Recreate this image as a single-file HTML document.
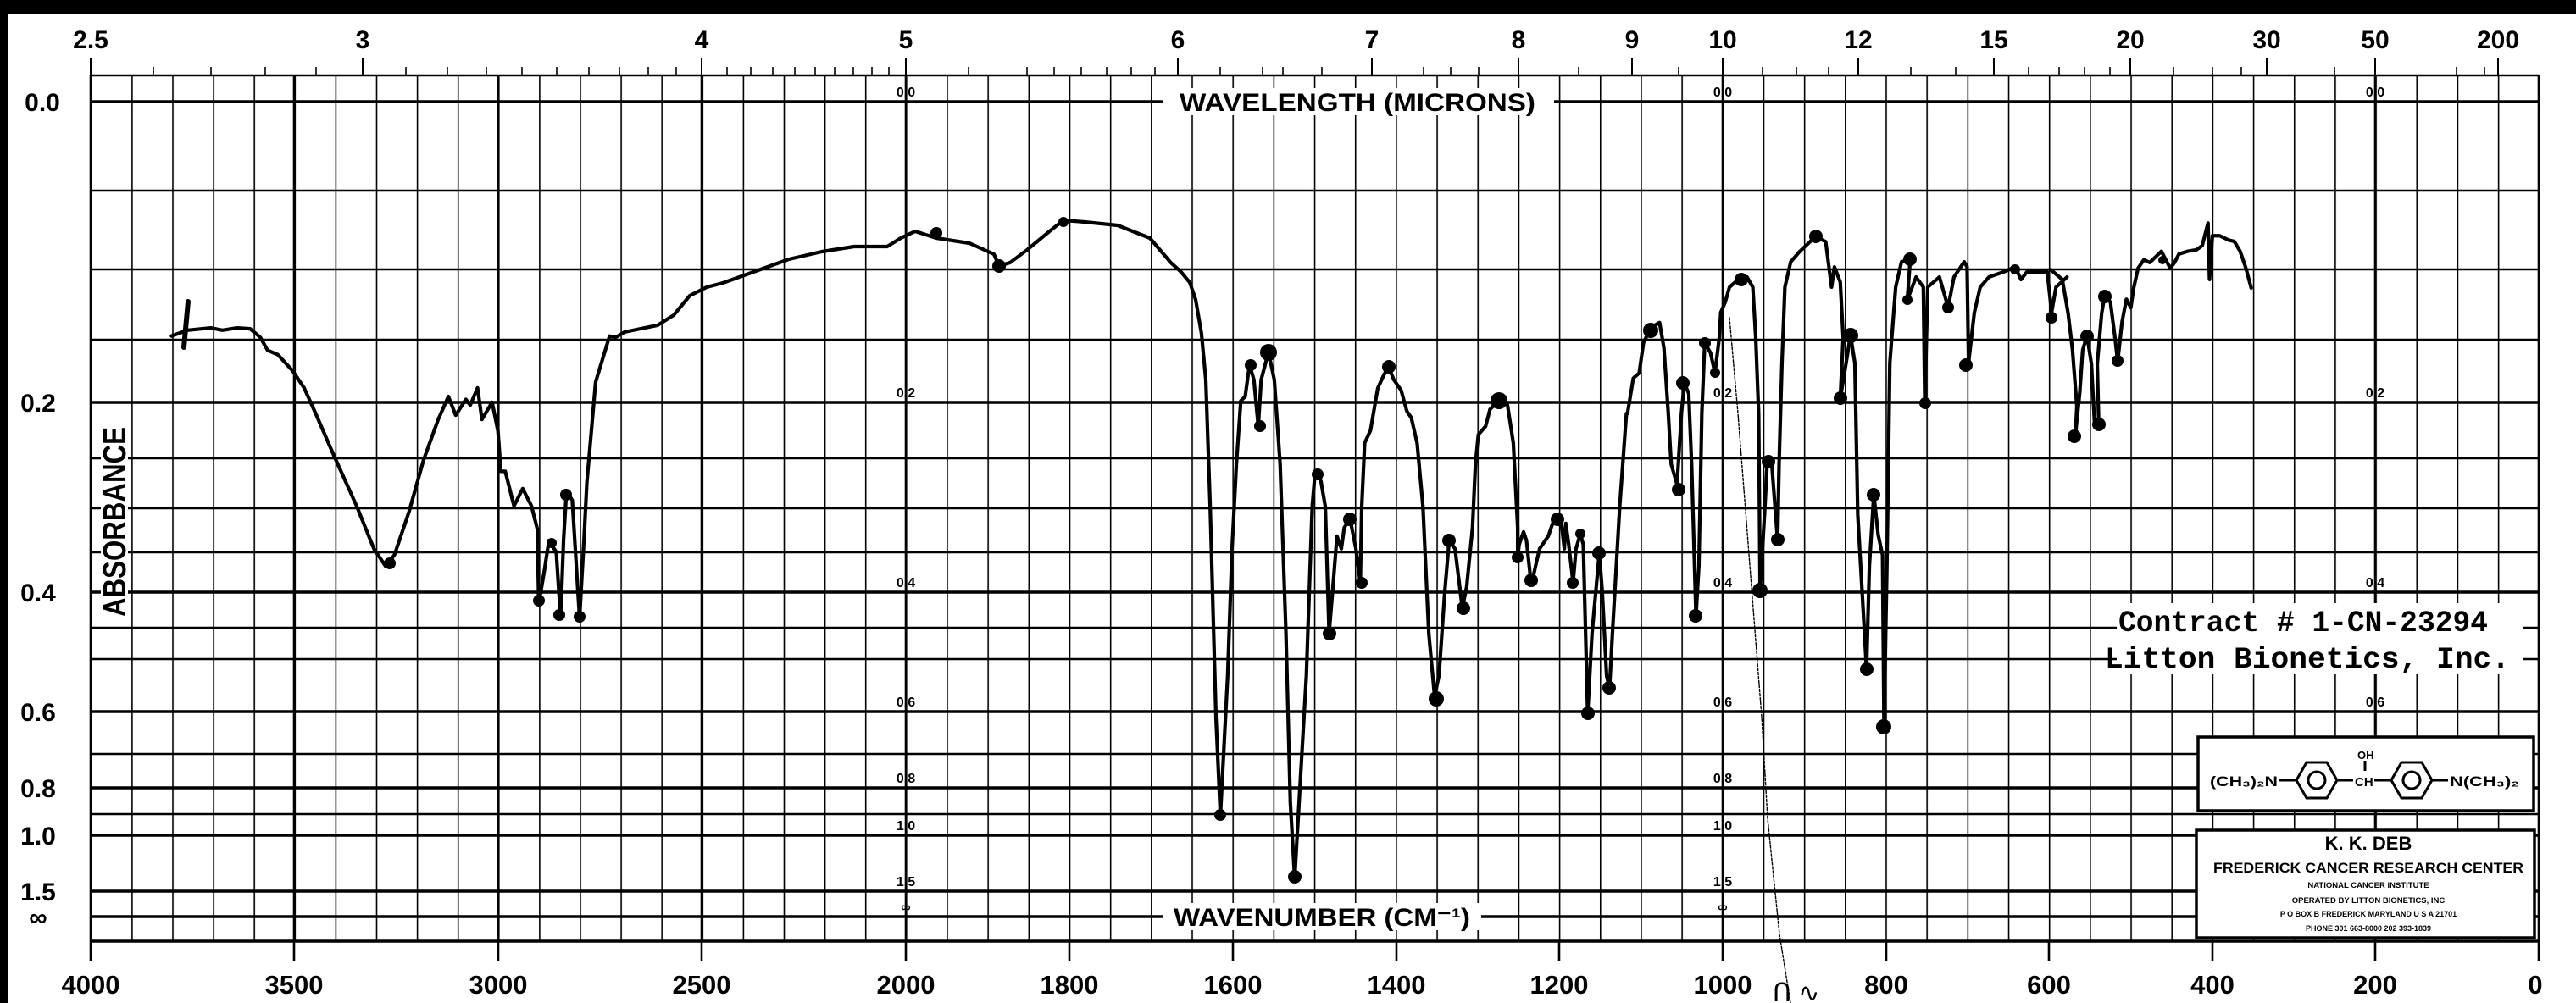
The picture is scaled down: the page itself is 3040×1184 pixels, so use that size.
<!DOCTYPE html>
<html><head><meta charset="utf-8"><style>
html,body{margin:0;padding:0;background:#fff;}
svg{display:block;}
text{font-family:"Liberation Sans",sans-serif;font-weight:bold;fill:#000;}
.m{font-family:"Liberation Mono",monospace;}
</style></head><body>
<svg width="3040" height="1184" viewBox="0 0 3040 1184" xmlns="http://www.w3.org/2000/svg">
<defs>
<pattern id="pa" x="107" y="0" width="48.1" height="1184" patternUnits="userSpaceOnUse"><rect x="0" y="0" width="1.6" height="1184" fill="#000"/></pattern>
<pattern id="pb" x="1069" y="0" width="48.175" height="1184" patternUnits="userSpaceOnUse"><rect x="0" y="0" width="1.6" height="1184" fill="#000"/></pattern>
</defs>
<rect x="0" y="0" width="3040" height="1184" fill="#fff"/>
<rect x="0" y="0" width="3040" height="16" fill="#000"/>
<rect x="0" y="0" width="10" height="1184" fill="#000"/>

<rect x="106" y="89" width="963" height="1022" fill="url(#pa)"/>
<rect x="1068" y="89" width="1928" height="1022" fill="url(#pb)"/>
<g stroke="#000" stroke-width="2.6">
<line x1="347" y1="89" x2="347" y2="1135"/><line x1="588" y1="89" x2="588" y2="1135"/><line x1="828" y1="89" x2="828" y2="1135"/><line x1="1069" y1="89" x2="1069" y2="1135"/>
<line x1="1262" y1="1111" x2="1262" y2="1135"/><line x1="1455" y1="1111" x2="1455" y2="1135"/><line x1="1648" y1="1111" x2="1648" y2="1135"/><line x1="1840" y1="1111" x2="1840" y2="1135"/><line x1="2033" y1="89" x2="2033" y2="1135"/><line x1="2226" y1="1111" x2="2226" y2="1135"/><line x1="2418" y1="1111" x2="2418" y2="1135"/><line x1="2611" y1="1111" x2="2611" y2="1135"/><line x1="2803" y1="89" x2="2803" y2="1135"/><line x1="2996" y1="89" x2="2996" y2="1135"/>
<line x1="107" y1="89" x2="107" y2="1135"/>
</g>
<g stroke="#000" stroke-width="2.4">
<line x1="107" y1="89" x2="2996" y2="89"/>
<line x1="107" y1="225" x2="2996" y2="225"/><line x1="107" y1="318" x2="2996" y2="318"/><line x1="107" y1="401" x2="2996" y2="401"/>
<line x1="107" y1="541" x2="2996" y2="541"/><line x1="107" y1="600" x2="2996" y2="600"/><line x1="107" y1="652" x2="2996" y2="652"/>
<line x1="107" y1="741" x2="2996" y2="741"/><line x1="107" y1="778" x2="2996" y2="778"/><line x1="107" y1="890" x2="2996" y2="890"/><line x1="107" y1="961" x2="2996" y2="961"/>
</g>
<g stroke="#000" stroke-width="3.4">
<line x1="107" y1="120" x2="2996" y2="120"/><line x1="107" y1="475" x2="2996" y2="475"/><line x1="107" y1="699" x2="2996" y2="699"/><line x1="107" y1="840" x2="2996" y2="840"/><line x1="107" y1="930" x2="2996" y2="930"/><line x1="107" y1="986" x2="2996" y2="986"/><line x1="107" y1="1052" x2="2996" y2="1052"/><line x1="107" y1="1082" x2="2996" y2="1082"/><line x1="107" y1="1111" x2="2996" y2="1111"/>
</g>

<g stroke="#000" stroke-width="2">
<line x1="107" y1="68" x2="107" y2="89"/><line x1="428" y1="68" x2="428" y2="89"/><line x1="828" y1="68" x2="828" y2="89"/><line x1="1069" y1="68" x2="1069" y2="89"/><line x1="1390" y1="68" x2="1390" y2="89"/><line x1="1619" y1="68" x2="1619" y2="89"/><line x1="1792" y1="68" x2="1792" y2="89"/><line x1="1926" y1="68" x2="1926" y2="89"/><line x1="2033" y1="68" x2="2033" y2="89"/><line x1="2193" y1="68" x2="2193" y2="89"/><line x1="2353" y1="68" x2="2353" y2="89"/><line x1="2514" y1="68" x2="2514" y2="89"/><line x1="2675" y1="68" x2="2675" y2="89"/><line x1="2803" y1="68" x2="2803" y2="89"/><line x1="2948" y1="68" x2="2948" y2="89"/>
</g>
<g stroke="#000" stroke-width="1.6">
<line x1="181" y1="79" x2="181" y2="89"/><line x1="249" y1="79" x2="249" y2="89"/><line x1="313" y1="79" x2="313" y2="89"/><line x1="373" y1="79" x2="373" y2="89"/><line x1="479" y1="79" x2="479" y2="89"/><line x1="528" y1="79" x2="528" y2="89"/><line x1="574" y1="79" x2="574" y2="89"/><line x1="616" y1="79" x2="616" y2="89"/><line x1="657" y1="79" x2="657" y2="89"/><line x1="695" y1="79" x2="695" y2="89"/><line x1="731" y1="79" x2="731" y2="89"/><line x1="765" y1="79" x2="765" y2="89"/><line x1="798" y1="79" x2="798" y2="89"/><line x1="858" y1="79" x2="858" y2="89"/><line x1="886" y1="79" x2="886" y2="89"/><line x1="912" y1="79" x2="912" y2="89"/><line x1="938" y1="79" x2="938" y2="89"/><line x1="962" y1="79" x2="962" y2="89"/><line x1="985" y1="79" x2="985" y2="89"/><line x1="1007" y1="79" x2="1007" y2="89"/><line x1="1029" y1="79" x2="1029" y2="89"/><line x1="1049" y1="79" x2="1049" y2="89"/>
<line x1="1143" y1="79" x2="1143" y2="89"/><line x1="1212" y1="79" x2="1212" y2="89"/><line x1="1244" y1="79" x2="1244" y2="89"/><line x1="1276" y1="79" x2="1276" y2="89"/><line x1="1306" y1="79" x2="1306" y2="89"/><line x1="1335" y1="79" x2="1335" y2="89"/><line x1="1363" y1="79" x2="1363" y2="89"/><line x1="1440" y1="79" x2="1440" y2="89"/><line x1="1490" y1="79" x2="1490" y2="89"/><line x1="1514" y1="79" x2="1514" y2="89"/><line x1="1560" y1="79" x2="1560" y2="89"/><line x1="1680" y1="79" x2="1680" y2="89"/><line x1="1712" y1="79" x2="1712" y2="89"/><line x1="1745" y1="79" x2="1745" y2="89"/><line x1="1863" y1="79" x2="1863" y2="89"/><line x1="1981" y1="79" x2="1981" y2="89"/><line x1="2080" y1="79" x2="2080" y2="89"/><line x1="2120" y1="79" x2="2120" y2="89"/><line x1="2158" y1="79" x2="2158" y2="89"/><line x1="2255" y1="79" x2="2255" y2="89"/><line x1="2308" y1="79" x2="2308" y2="89"/><line x1="2394" y1="79" x2="2394" y2="89"/><line x1="2430" y1="79" x2="2430" y2="89"/><line x1="2460" y1="79" x2="2460" y2="89"/><line x1="2490" y1="79" x2="2490" y2="89"/><line x1="2565" y1="79" x2="2565" y2="89"/><line x1="2611" y1="79" x2="2611" y2="89"/><line x1="2645" y1="79" x2="2645" y2="89"/><line x1="2755" y1="79" x2="2755" y2="89"/><line x1="2899" y1="79" x2="2899" y2="89"/><line x1="2932" y1="79" x2="2932" y2="89"/>
</g>
<g font-size="30" text-anchor="middle">
<text x="107" y="57">2.5</text><text x="428" y="57">3</text><text x="828" y="57">4</text><text x="1069" y="57">5</text><text x="1390" y="57">6</text><text x="1619" y="57">7</text><text x="1792" y="57">8</text><text x="1926" y="57">9</text><text x="2033" y="57">10</text><text x="2193" y="57">12</text><text x="2353" y="57">15</text><text x="2514" y="57">20</text><text x="2675" y="57">30</text><text x="2803" y="57">50</text><text x="2948" y="57">200</text>
</g>
<g font-size="31" text-anchor="middle">
<text x="107" y="1173">4000</text><text x="347" y="1173">3500</text><text x="588" y="1173">3000</text><text x="828" y="1173">2500</text><text x="1069" y="1173">2000</text><text x="1262" y="1173">1800</text><text x="1455" y="1173">1600</text><text x="1648" y="1173">1400</text><text x="1840" y="1173">1200</text><text x="2033" y="1173">1000</text><text x="2226" y="1173">800</text><text x="2418" y="1173">600</text><text x="2611" y="1173">400</text><text x="2803" y="1173">200</text><text x="2992" y="1173">0</text>
</g>
<g font-size="30" text-anchor="middle">
<text x="50" y="131">0.0</text><text x="45" y="486">0.2</text><text x="45" y="710">0.4</text><text x="45" y="851">0.6</text><text x="45" y="941">0.8</text><text x="45" y="997">1.0</text><text x="45" y="1063">1.5</text><text x="45" y="1093">∞</text>
</g>
<rect x="119" y="500" width="32" height="230" fill="#fff"/>
<text transform="translate(148,728) rotate(-90)" font-size="38" textLength="224" lengthAdjust="spacingAndGlyphs">ABSORBANCE</text>
<g font-size="16" text-anchor="middle">
<text x="1069" y="114">0.0</text><text x="1069" y="469">0.2</text><text x="1069" y="693">0.4</text><text x="1069" y="834">0.6</text><text x="1069" y="924">0.8</text><text x="1069" y="980">1.0</text><text x="1069" y="1046">1.5</text><text x="1069" y="1076">∞</text>
<text x="2033" y="114">0.0</text><text x="2033" y="469">0.2</text><text x="2033" y="693">0.4</text><text x="2033" y="834">0.6</text><text x="2033" y="924">0.8</text><text x="2033" y="980">1.0</text><text x="2033" y="1046">1.5</text><text x="2033" y="1076">∞</text>
<text x="2803" y="114">0.0</text><text x="2803" y="469">0.2</text><text x="2803" y="693">0.4</text><text x="2803" y="834">0.6</text>
</g>
<rect x="1372" y="104" width="462" height="32" fill="#fff"/>
<text x="1602" y="131" font-size="30" text-anchor="middle" textLength="420" lengthAdjust="spacingAndGlyphs">WAVELENGTH  (MICRONS)</text>
<rect x="1372" y="1066" width="376" height="32" fill="#fff"/>
<text x="1560" y="1093" font-size="30" text-anchor="middle" textLength="350" lengthAdjust="spacingAndGlyphs">WAVENUMBER  (CM⁻¹)</text>

<g fill="none" stroke="#000" stroke-width="4.2" stroke-linejoin="round" stroke-linecap="round">
<line x1="222" y1="356" x2="217" y2="410" stroke-width="6"/>
<polyline vector-effect="non-scaling-stroke" transform="translate(180,298) scale(0.344,0.34)" points="65,290 120,270 200,262 240,270 290,262 335,265 370,295 395,340 430,355 480,410 520,470 560,560 620,700 700,880 760,1030 800,1090 830,1050 880,900 930,720 980,580 1015,500 1040,565 1075,510 1090,530 1115,470 1130,580 1165,520 1185,620 1195,760 1210,760 1240,880 1270,820 1300,880 1320,960 1325,1220 1345,1100 1360,1000 1385,1040 1400,1270 1410,1000 1420,830 1440,860 1465,1270 1480,1000 1490,800 1520,450 1568,290"/>
<polyline points="719,397 727,398 737,392 756,388 776,384 795,372 814,349 834,339 853,334 892,320 931,306 970,297 1008,291 1047,291 1063,281 1080,273 1105,281 1144,287 1173,300 1179,314 1192,310 1212,295 1241,271 1255,260 1280,262 1319,266 1357,281 1380,308"/>
<polyline vector-effect="non-scaling-stroke" transform="translate(1380,298.5) scale(0.344,0.499)" points="0,20 40,45 70,70 90,110 110,190 125,300 140,600 150,850 160,1100 175,1330 185,1200 200,1000 215,700 230,500 245,350 260,340 275,265 290,300 305,410 315,300 340,235 360,300 380,500 400,900 415,1300 430,1480 445,1300 470,1000 490,600 500,520 520,540 535,600 548,900 560,800 575,670 590,700 600,650 620,630 640,700 655,780 660,600 670,450 690,420 700,380 715,320 735,290 752,270 770,300 795,325 815,375 830,390 850,450 870,600 890,900 910,1050 925,1000 945,800 960,680 980,700 1005,840 1020,790 1040,650 1050,500 1060,430 1085,410 1100,370 1130,350 1160,360 1180,450 1195,650 1195,720 1200,690 1215,660 1225,680 1240,775 1250,760 1270,700 1290,680 1300,670 1315,640 1330,625 1345,640 1355,700 1360,640 1370,690 1385,780 1395,700 1410,665 1420,690 1435,1090 1450,900 1475,710 1485,800 1500,1000 1510,1030 1520,900 1545,600 1568,380"/>
<polyline vector-effect="non-scaling-stroke" transform="translate(1900,249.4) scale(0.344,0.597)" points="60,400 80,330 100,320 115,260 140,230 170,220 185,270 200,400 210,500 230,540 245,400 255,340 270,360 280,500 290,700 295,800 305,700 315,400 325,260 345,280 360,320 375,250 380,200 395,180 410,150 440,135 470,130 490,150 500,250 510,400 515,750 530,600 540,490 555,500 575,650 580,500 590,300 600,150 620,100 650,80 705,50 740,60 760,150 770,110 790,140 800,250 790,370 810,300 825,245 840,300 850,600 880,905 890,700 905,560 920,640 935,680 940,1020 950,700 960,300 980,150 1000,100 1030,95 1020,175 1050,130 1075,150 1080,380 1090,150 1130,130 1160,190 1180,130 1215,100 1225,110 1230,300 1250,200 1270,150 1300,130 1350,120 1390,110 1410,135 1430,120 1500,120 1515,200 1530,150 1568,130"/>
<polyline vector-effect="non-scaling-stroke" transform="translate(2420,230) scale(0.344,0.333)" points="0,265 40,300 60,420 75,550 90,750 85,850 100,700 110,550 125,500 140,600 150,800 165,810 160,600 175,420 185,360 205,380 220,500 230,590 245,450 260,370 275,400 285,330 300,260 320,230 340,240 360,220 380,200 395,230 410,260 425,240 440,210 470,200 500,195 520,180 540,100 545,300 555,145 580,145 610,160 630,165 650,200 670,260 688,330"/>
<polyline stroke-width="1.4" stroke-dasharray="3,2" points="2041,375 2051,488 2065,667 2079,846 2086,966 2100,1103 2113,1184"/>
</g>
<g fill="#000">
<circle cx="460" cy="665" r="7"/><circle cx="636" cy="709" r="7"/><circle cx="651" cy="641" r="6"/><circle cx="660" cy="726" r="7"/><circle cx="668" cy="584" r="7"/><circle cx="684" cy="728" r="7"/>
<circle cx="1105" cy="275" r="7"/><circle cx="1179" cy="314" r="8"/><circle cx="1255" cy="262" r="6"/>
<circle cx="1440" cy="962" r="7"/><circle cx="1476" cy="431" r="7"/><circle cx="1487" cy="503" r="7"/><circle cx="1497" cy="416" r="10"/><circle cx="1528" cy="1035" r="8"/><circle cx="1555" cy="560" r="7"/><circle cx="1569" cy="748" r="8"/><circle cx="1593" cy="613" r="8"/><circle cx="1607" cy="688" r="7"/><circle cx="1639" cy="433" r="8"/><circle cx="1769" cy="473" r="10"/><circle cx="1695" cy="825" r="9"/><circle cx="1710" cy="638" r="8"/><circle cx="1727" cy="718" r="8"/><circle cx="1791" cy="658" r="7"/><circle cx="1807" cy="685" r="8"/><circle cx="1838" cy="613" r="8"/><circle cx="1856" cy="688" r="7"/><circle cx="1865" cy="630" r="6"/><circle cx="1874" cy="842" r="8"/><circle cx="1887" cy="653" r="8"/><circle cx="1899" cy="812" r="8"/>
<circle cx="1948" cy="390" r="9"/><circle cx="1986" cy="452" r="8"/><circle cx="1981" cy="578" r="8"/><circle cx="2001" cy="727" r="8"/><circle cx="2012" cy="405" r="7"/><circle cx="2024" cy="440" r="6"/><circle cx="2055" cy="330" r="8"/><circle cx="2077" cy="697" r="9"/><circle cx="2087" cy="545" r="8"/><circle cx="2098" cy="637" r="8"/><circle cx="2143" cy="279" r="8"/><circle cx="2172" cy="470" r="8"/><circle cx="2184" cy="396" r="9"/><circle cx="2203" cy="790" r="8"/><circle cx="2211" cy="584" r="8"/><circle cx="2223" cy="858" r="9"/><circle cx="2254" cy="306" r="8"/><circle cx="2251" cy="354" r="6"/><circle cx="2272" cy="476" r="7"/><circle cx="2299" cy="363" r="7"/><circle cx="2320" cy="431" r="8"/><circle cx="2378" cy="318" r="6"/><circle cx="2421" cy="375" r="7"/>
<circle cx="2448" cy="515" r="8"/><circle cx="2463" cy="397" r="8"/><circle cx="2477" cy="501" r="8"/><circle cx="2484" cy="350" r="8"/><circle cx="2499" cy="426" r="7"/><circle cx="2552" cy="307" r="5"/>
</g>
<text x="2092" y="1182" font-size="30" style="font-weight:normal">ᑎ ∿</text>

<rect x="2498" y="712" width="480" height="84" fill="#fff"/>
<text class="m" x="2500" y="745" font-size="35" textLength="436" lengthAdjust="spacingAndGlyphs">Contract # 1-CN-23294</text>
<text class="m" x="2484" y="788" font-size="35" textLength="478" lengthAdjust="spacingAndGlyphs">Litton Bionetics, Inc.</text>

<rect x="2594" y="870" width="396" height="87" fill="#fff" stroke="#000" stroke-width="3.5"/>
<g font-size="17">
<text x="2608" y="928" textLength="80" lengthAdjust="spacingAndGlyphs">(CH₃)₂N</text>
<text x="2782" y="896" font-size="13">OH</text>
<text x="2779" y="928" font-size="15">CH</text>
<text x="2891" y="928" textLength="82" lengthAdjust="spacingAndGlyphs">N(CH₃)₂</text>
</g>
<g fill="none" stroke="#000" stroke-width="3">
<line x1="2690" y1="921" x2="2710" y2="921"/><line x1="2758" y1="921" x2="2777" y2="921"/><line x1="2802" y1="921" x2="2822" y2="921"/><line x1="2870" y1="921" x2="2889" y2="921"/><line x1="2791" y1="898" x2="2791" y2="910"/>
<polygon points="2710,921 2722,900 2746,900 2758,921 2746,942 2722,942"/><circle cx="2734" cy="921" r="10"/>
<polygon points="2822,921 2834,900 2858,900 2870,921 2858,942 2834,942"/><circle cx="2846" cy="921" r="10"/>
</g>
<rect x="2592" y="980" width="399" height="127" fill="#fff" stroke="#000" stroke-width="3.5"/>
<g text-anchor="middle">
<text x="2795" y="1003" font-size="22">K. K. DEB</text>
<text x="2795" y="1030" font-size="17" textLength="366" lengthAdjust="spacingAndGlyphs">FREDERICK CANCER RESEARCH CENTER</text>
<text x="2795" y="1048" font-size="9.5">NATIONAL CANCER INSTITUTE</text>
<text x="2795" y="1066" font-size="9.5">OPERATED BY LITTON BIONETICS, INC</text>
<text x="2795" y="1082" font-size="9">P O BOX B FREDERICK MARYLAND U S A 21701</text>
<text x="2795" y="1099" font-size="9">PHONE 301 663-8000 202 393-1839</text>
</g>
</svg>
</body></html>
